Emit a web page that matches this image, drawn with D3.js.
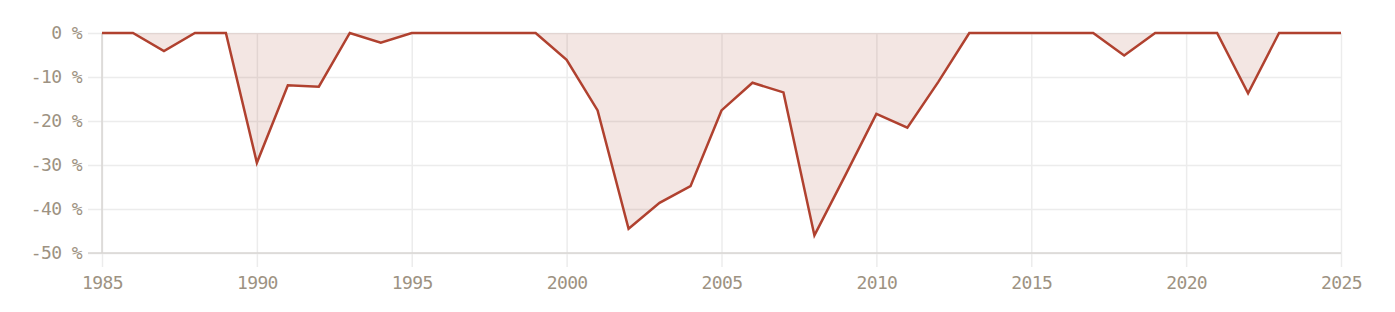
<!DOCTYPE html>
<html>
<head>
<meta charset="utf-8">
<script src="https://cdn.jsdelivr.net/npm/d3@7"></script>
<style>
  body { margin: 0; background: #fff; }
  .tick text { font-family: "DejaVu Sans Mono", monospace; font-size: 18px; letter-spacing: -0.6px; fill: #9d9282; }
</style>
</head>
<body>
<div id="chart"></div>
<script>
// drawdown per year, in percent
const years = [1985, 1986, 1987, 1988, 1989, 1990, 1991, 1992, 1993, 1994,
  1995, 1996, 1997, 1998, 1999, 2000, 2001, 2002, 2003, 2004,
  2005, 2006, 2007, 2008, 2009, 2010, 2011, 2012, 2013, 2014,
  2015, 2016, 2017, 2018, 2019, 2020, 2021, 2022, 2023, 2024, 2025];
const drawdown = [0, 0, -4.1, 0, 0, -29.5, -11.9, -12.2, 0, -2.2,
  0, 0, 0, 0, 0, -6.1, -17.6, -44.5, -38.6, -34.8,
  -17.6, -11.3, -13.5, -46.0, -32.3, -18.4, -21.5, -11.1, 0, 0,
  0, 0, 0, -5.1, 0, 0, 0, -13.7, 0, 0, 0];
const xTicks = [1985, 1990, 1995, 2000, 2005, 2010, 2015, 2020, 2025];
const yTicks = [0, -10, -20, -30, -40, -50];

const margin = {top: 33, right: 54, bottom: 59, left: 102},
    width = 1395 - margin.left - margin.right,
    height = 312 - margin.top - margin.bottom;

const data = years.map((y, i) => ({year: y, value: drawdown[i]}));

const svg = d3.select("#chart")
    .append("svg")
    .attr("width", 1395)
    .attr("height", 312)
    .append("g")
    .attr("transform", `translate(${margin.left},${margin.top})`);

const x = d3.scaleLinear().domain([1985, 2025]).range([0, width]);
const y = d3.scaleLinear().domain([0, -50]).range([0, height]);

// horizontal grid + y labels
const yAxis = svg.append("g")
    .call(d3.axisLeft(y).tickValues(yTicks).tickSize(-width - 14).tickPadding(6)
      .tickFormat(d => d + " %"))
    .attr("transform", "translate(-14,0)");
yAxis.select(".domain").remove();
yAxis.selectAll(".tick line").attr("stroke", "#ececec").attr("stroke-width", 1.5)
    .attr("x1", 0).attr("x2", width + 14);
yAxis.selectAll(".tick text").attr("x", -6);

// vertical grid + x labels
const xAxis = svg.append("g")
    .attr("transform", `translate(0,${height + 14})`)
    .call(d3.axisBottom(x).tickValues(xTicks).tickSize(-height - 14).tickPadding(8)
      .tickFormat(d3.format("d")));
xAxis.select(".domain").remove();
xAxis.selectAll(".tick line").attr("stroke", "#ececec").attr("stroke-width", 1.5);
xAxis.selectAll(".tick text").attr("dy", "0.75em");

// axis lines
svg.append("line")
    .attr("x1", 0).attr("x2", 0).attr("y1", 0).attr("y2", height)
    .attr("stroke", "#d9d6d3").attr("stroke-width", 1.5);
svg.append("line")
    .attr("x1", -14).attr("x2", width).attr("y1", height).attr("y2", height)
    .attr("stroke", "#d9d6d3").attr("stroke-width", 1.5);

// area and line
svg.append("path")
    .datum(data)
    .attr("fill", "#a8503c")
    .attr("fill-opacity", 0.14)
    .attr("d", d3.area().x(d => x(d.year)).y0(y(0)).y1(d => y(d.value)));

svg.append("path")
    .datum(data)
    .attr("fill", "none")
    .attr("stroke", "#b0412f")
    .attr("stroke-width", 2.5)
    .attr("stroke-linejoin", "miter")
    .attr("d", d3.line().x(d => x(d.year)).y(d => y(d.value)));
</script>
</body>
</html>
